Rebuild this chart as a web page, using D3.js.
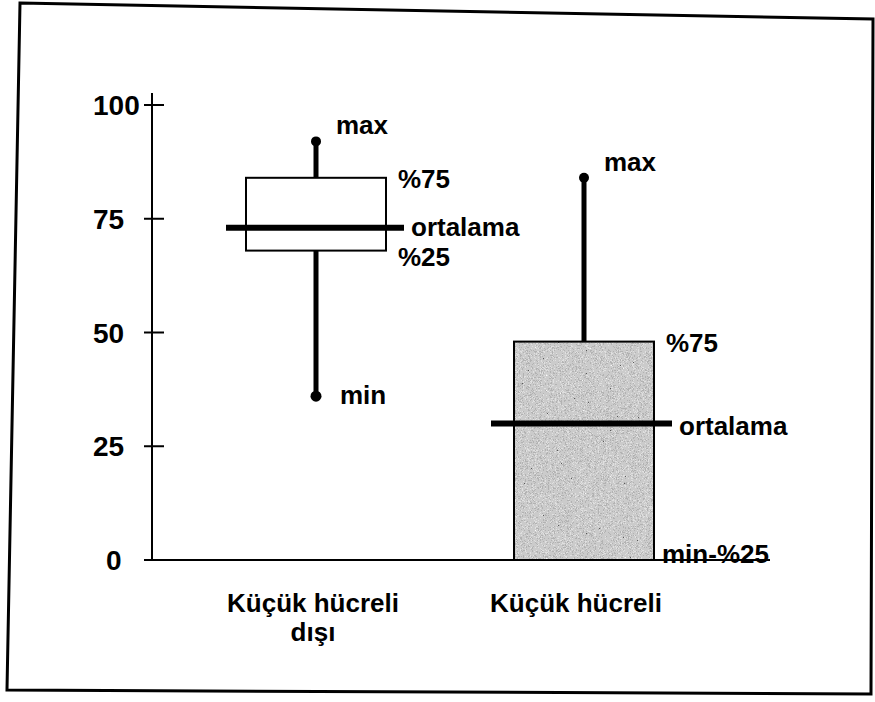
<!DOCTYPE html>
<html>
<head>
<meta charset="utf-8">
<script src="https://cdn.jsdelivr.net/npm/d3@7"></script>
<style>
  body { margin: 0; background: #fff; }
  text { font-family: "Liberation Sans", Arial, sans-serif; font-weight: bold; font-size: 26px; fill: #000; }
</style>
</head>
<body>
<svg id="chart" width="875" height="702"></svg>
<script>
// --- Data ---
const groups = [["Küçük hücreli", "dışı"], ["Küçük hücreli"]];
const mins  = [36, 0];
const q1s   = [68, 0];
const means = [73, 30];
const q3s   = [84, 48];
const maxs  = [92, 84];
const yTicks = [0, 25, 50, 75, 100];

const svg = d3.select("#chart");

// scanned page frame (slightly rotated)
svg.append("path")
  .attr("d", "M20,3 L873,19 L871,694 L7,690 Z")
  .attr("fill", "none").attr("stroke", "#000").attr("stroke-width", 3);

// --- Scales ---
const y = d3.scaleLinear().domain([0, 100]).range([560, 105]);
const x = d3.scalePoint().domain([0, 1]).range([316, 584]);
const boxW = 140;

// noise texture for the shaded box
const defs = svg.append("defs");
const f = defs.append("filter").attr("id", "grain")
  .attr("x", 0).attr("y", 0).attr("width", 1).attr("height", 1);
f.append("feTurbulence").attr("type", "fractalNoise")
  .attr("baseFrequency", 1.4).attr("numOctaves", 2).attr("seed", 3).attr("result", "n");
f.append("feColorMatrix").attr("type", "matrix")
  .attr("values", "0.33 0.33 0.33 0 0  0.33 0.33 0.33 0 0  0.33 0.33 0.33 0 0  0 0 0 0 1");
f.append("feComponentTransfer").call(c => {
  ["feFuncR", "feFuncG", "feFuncB"].forEach(k =>
    c.append(k).attr("type", "discrete").attr("tableValues", "0 0.1 0.45 0.6 0.75 0.95 1"));
});

// --- Axis ---
const axisX = 152;
svg.append("line")
  .attr("x1", axisX).attr("x2", axisX).attr("y1", y(100) - 12).attr("y2", y(0))
  .attr("stroke", "#000").attr("stroke-width", 2);
svg.append("line")
  .attr("x1", axisX).attr("x2", 770).attr("y1", y(0)).attr("y2", y(0))
  .attr("stroke", "#000").attr("stroke-width", 2);

svg.selectAll(".tick").data(yTicks).join("line")
  .attr("class", "tick")
  .attr("x1", axisX - 8).attr("x2", axisX + 12)
  .attr("y1", d => y(d)).attr("y2", d => y(d))
  .attr("stroke", "#000").attr("stroke-width", 2);

svg.selectAll(".tlab").data(yTicks).join("text")
  .attr("class", "tlab")
  .attr("x", d => d === 0 ? 106 : 93)
  .attr("y", d => y(d) + 10)
  .style("font-size", "28px")
  .text(d => d);

// --- Boxes ---
groups.forEach((g, i) => {
  const cx = x(i);
  const left = cx - boxW / 2, right = cx + boxW / 2;

  // whiskers
  svg.append("line")
    .attr("x1", cx).attr("x2", cx).attr("y1", y(q3s[i])).attr("y2", y(maxs[i]))
    .attr("stroke", "#000").attr("stroke-width", 5);
  if (mins[i] < q1s[i]) {
    svg.append("line")
      .attr("x1", cx).attr("x2", cx).attr("y1", y(q1s[i])).attr("y2", y(mins[i]))
      .attr("stroke", "#000").attr("stroke-width", 5);
    svg.append("circle").attr("cx", cx).attr("cy", y(mins[i])).attr("r", 5.5).attr("fill", "#000");
  }
  svg.append("circle").attr("cx", cx).attr("cy", y(maxs[i])).attr("r", 5).attr("fill", "#000");

  // box
  if (i === 1) {
    svg.append("rect")
      .attr("x", left).attr("y", y(q3s[i]))
      .attr("width", boxW).attr("height", y(q1s[i]) - y(q3s[i]))
      .attr("filter", "url(#grain)");
  }
  svg.append("rect")
    .attr("x", left).attr("y", y(q3s[i]))
    .attr("width", boxW).attr("height", y(q1s[i]) - y(q3s[i]))
    .attr("fill", "none").attr("stroke", "#000").attr("stroke-width", 2);

  // mean line
  const ext = i === 0 ? [left - 20, right + 18] : [left - 23, right + 18];
  svg.append("line")
    .attr("x1", ext[0]).attr("x2", ext[1]).attr("y1", y(means[i])).attr("y2", y(means[i]))
    .attr("stroke", "#000").attr("stroke-width", 6);

  // annotations
  svg.append("text").attr("x", cx + 20).attr("y", y(maxs[i]) - 7).text("max");
  svg.append("text").attr("x", right + 12).attr("y", y(q3s[i]) + 10).text("%75");
  svg.append("text").attr("x", ext[1] + 7).attr("y", y(means[i]) + (i === 0 ? 8 : 11)).text("ortalama");
  if (i === 0) {
    svg.append("text").attr("x", right + 12).attr("y", y(q1s[i]) + 15).text("%25");
    svg.append("text").attr("x", cx + 24).attr("y", y(mins[i]) + 8).text("min");
  } else {
    svg.append("text").attr("x", right + 8).attr("y", y(0) + 3).text("min-%25");
  }

  // category label
  g.forEach((line, k) => {
    svg.append("text")
      .attr("x", i === 0 ? cx - 3 : cx - 8)
      .attr("y", 612 + k * 29)
      .attr("text-anchor", "middle")
      .text(line);
  });
});
</script>
</body>
</html>
